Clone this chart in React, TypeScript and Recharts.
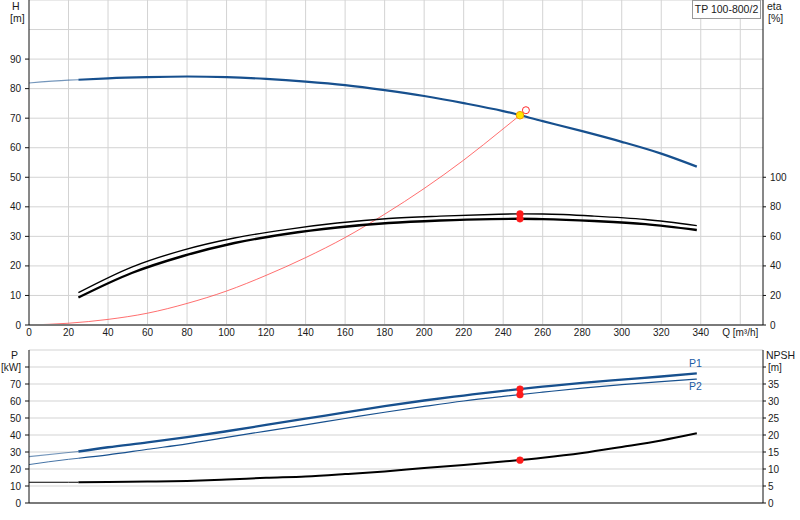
import React from 'react';
import { ComposedChart, Line, Scatter, XAxis, YAxis, CartesianGrid } from 'recharts';

// ---- data ----
const qTicks = [0, 20, 40, 60, 80, 100, 120, 140, 160, 180, 200, 220, 240, 260, 280, 300, 320, 340, 360];
const qGridLines = [20, 40, 60, 80, 100, 120, 140, 160, 180, 200, 220, 240, 260, 280, 300, 320, 340, 360];
const hTicks = [0, 10, 20, 30, 40, 50, 60, 70, 80, 90];
const hGridLines = [10, 20, 30, 40, 50, 60, 70, 80, 90, 100, 110];
const etaTicks = [0, 20, 40, 60, 80, 100];
const pTicks = [0, 10, 20, 30, 40, 50, 60, 70, 80];
const pGridLines = [10, 20, 30, 40, 50, 60, 70, 80, 90];
const npshTicks = [0, 5, 10, 15, 20, 25, 30, 35, 40];

// Head curve
const hExtQ = [0, 20, 25];
const hExtV = [81.9, 82.9, 83.0];
const hQ = [25, 40, 60, 80, 100, 120, 140, 160, 180, 200, 220, 240, 260, 280, 300, 320, 338];
const hV = [83.0, 83.5, 83.9, 84.1, 83.9, 83.3, 82.4, 81.2, 79.5, 77.5, 75.1, 72.4, 69.0, 65.6, 62.0, 58.0, 53.6];

// System curve (red)
const sysQ = [0, 20, 40, 60, 80, 100, 120, 140, 160, 180, 200, 220, 240, 248.5];
const sysV = [0, 0.6, 1.9, 4.0, 7.3, 11.5, 16.8, 22.8, 29.6, 37.5, 46.2, 55.8, 66.4, 71.0];

// Efficiency curves
const etaQ = [25, 52, 78, 104, 130, 156, 182, 208, 234, 248, 260, 286, 312, 338];
const etaPump = [21.9, 39.2, 50.7, 58.9, 64.6, 69.0, 72.1, 73.7, 74.8, 75.2, 75.1, 73.7, 71.4, 67.3];
const etaTotal = [18.6, 35.2, 46.7, 55.5, 61.6, 66.0, 69.0, 70.7, 71.7, 71.9, 71.7, 70.4, 68.3, 64.3];

// Power curves
const pExtQ = [0, 20, 25];
const p1Ext = [27.3, 29.7, 30.3];
const p2Ext = [22.6, 25.7, 26.3];
const pQ = [25, 40, 60, 80, 100, 120, 140, 160, 180, 200, 220, 240, 260, 280, 300, 320, 338];
const p1V = [30.3, 32.8, 35.6, 38.7, 42.2, 45.9, 49.6, 53.3, 57.0, 60.3, 63.2, 66.0, 68.4, 70.7, 72.6, 74.4, 76.3];
const p2V = [26.3, 28.3, 31.6, 34.8, 38.6, 42.3, 46.0, 49.7, 53.4, 56.8, 60.0, 62.7, 65.2, 67.6, 69.6, 71.4, 72.9];

// NPSH curve
const nExtQ = [0, 20, 25];
const nExtV = [6.1, 6.1, 6.1];
const nQ = [25, 40, 60, 80, 100, 120, 140, 160, 180, 200, 220, 240, 260, 280, 300, 320, 338];
const nV = [6.1, 6.15, 6.3, 6.5, 6.9, 7.4, 7.8, 8.5, 9.3, 10.3, 11.2, 12.2, 13.3, 14.7, 16.5, 18.4, 20.5];

// Duty point
const dutyQ = 248.5;
const dutyH = 71.0;
const reqQ = 251.5;
const reqH = 72.7;
const dutyEtaPump = 75.2;
const dutyEtaTotal = 71.9;
const dutyP1 = 67.0;
const dutyP2 = 63.7;
const dutyNpsh = 12.6;

const title = 'TP 100-800/2';

// ---- helpers ----
const pts = (qs: number[], vs: number[]) => qs.map((q, i) => ({ q, v: vs[i] }));
const FONT = '"Liberation Sans", Arial, sans-serif';
const TXT = '#1a1a1a';
const BLUE = '#17508e';
const GRID = '#d3d3d3';
const X_DOMAIN: [number, number] = [0, 371.5];

const tickStyle = { fontSize: 10, fill: TXT, fontFamily: FONT };

const redDot = (r: number) => (props: any) => (
  <circle cx={props.cx} cy={props.cy} r={r} fill="#ff1a1a" stroke="#ff1a1a" strokeWidth={0.5} />
);
const yellowDot = (props: any) => (
  <circle cx={props.cx} cy={props.cy} r={3.8} fill="#ffe600" stroke="#f29a00" strokeWidth={1} />
);
const openDot = (props: any) => (
  <circle cx={props.cx} cy={props.cy} r={3.5} fill="#ffffff" stroke="#ff2a2a" strokeWidth={1} />
);

const overlay = (text: string, left: number, top: number, extra: React.CSSProperties = {}) => (
  <div
    style={{
      position: 'absolute',
      left,
      top,
      fontFamily: FONT,
      fontSize: 10.5,
      color: TXT,
      lineHeight: '12px',
      whiteSpace: 'nowrap',
      ...extra,
    }}
  >
    {text}
  </div>
);

export default function App() {
  return (
    <div style={{ position: 'absolute', left: 0, top: 0, width: 800, height: 520, background: '#fff', overflow: 'hidden' }}>
      {/* Top chart: head + efficiency */}
      <div style={{ position: 'absolute', left: 0, top: 0 }}>
        <ComposedChart width={800} height={340} margin={{ top: 0, right: 0, bottom: 0, left: 0 }}>
          <CartesianGrid
            stroke={GRID}
            strokeWidth={1}
            horizontalValues={hGridLines}
            verticalValues={qGridLines}
          />
          <XAxis
            type="number"
            dataKey="q"
            domain={X_DOMAIN}
            allowDataOverflow
            ticks={qTicks}
            tickFormatter={(v: number) => (v === 360 ? 'Q [m³/h]' : String(v))}
            height={15}
            tickLine={false}
            tickSize={0}
            tickMargin={4}
            axisLine={{ stroke: '#7a7a7a', strokeWidth: 2 }}
            tick={tickStyle}
            interval={0}
          />
          <YAxis
            type="number"
            domain={[0, 110]}
            ticks={hTicks}
            width={29}
            tickSize={4}
            tickMargin={4}
            tickLine={{ stroke: '#111' }}
            axisLine={{ stroke: '#111', strokeWidth: 1 }}
            tick={tickStyle}
            interval={0}
            allowDataOverflow
          />
          <YAxis
            yAxisId="eta"
            orientation="right"
            type="number"
            domain={[0, 220]}
            ticks={etaTicks}
            width={37}
            tickSize={3}
            tickMargin={4}
            tickLine={{ stroke: '#111' }}
            axisLine={{ stroke: '#111', strokeWidth: 1 }}
            tick={tickStyle}
            interval={0}
            allowDataOverflow
          />
          <Line data={pts(sysQ, sysV)} dataKey="v" type="monotone" stroke="#ff4a4a" strokeWidth={0.8} dot={false} activeDot={false} isAnimationActive={false} />
          <Line data={pts(hExtQ, hExtV)} dataKey="v" type="monotone" stroke={BLUE} strokeOpacity={0.6} strokeWidth={1.2} dot={false} activeDot={false} isAnimationActive={false} />
          <Line data={pts(hQ, hV)} dataKey="v" type="monotone" stroke={BLUE} strokeWidth={2.2} dot={false} activeDot={false} isAnimationActive={false} />
          <Line yAxisId="eta" data={pts(etaQ, etaPump)} dataKey="v" type="monotone" stroke="#000" strokeWidth={1.4} dot={false} activeDot={false} isAnimationActive={false} />
          <Line yAxisId="eta" data={pts(etaQ, etaTotal)} dataKey="v" type="monotone" stroke="#000" strokeWidth={2.4} dot={false} activeDot={false} isAnimationActive={false} />
          <Scatter yAxisId="eta" data={[{ q: dutyQ, v: dutyEtaPump }, { q: dutyQ, v: dutyEtaTotal }]} dataKey="v" shape={redDot(3.4)} isAnimationActive={false} />
          <Scatter data={[{ q: reqQ, v: reqH }]} dataKey="v" shape={openDot} isAnimationActive={false} />
          <Scatter data={[{ q: dutyQ, v: dutyH }]} dataKey="v" shape={yellowDot} isAnimationActive={false} />
        </ComposedChart>
      </div>

      {/* Bottom chart: power + NPSH */}
      <div style={{ position: 'absolute', left: 0, top: 340 }}>
        <ComposedChart width={800} height={180} margin={{ top: 10, right: 0, bottom: 0, left: 0 }}>
          <CartesianGrid
            stroke={GRID}
            strokeWidth={1}
            horizontalValues={pGridLines}
            verticalValues={qGridLines}
          />
          <XAxis
            type="number"
            dataKey="q"
            domain={X_DOMAIN}
            allowDataOverflow
            ticks={qTicks}
            height={17}
            tick={false}
            tickLine={false}
            axisLine={{ stroke: '#7a7a7a', strokeWidth: 2 }}
          />
          <YAxis
            type="number"
            domain={[0, 90]}
            ticks={pTicks}
            tickFormatter={(v: number) => (v === 80 ? '[kW]' : String(v))}
            width={29}
            tickSize={4}
            tickMargin={4}
            tickLine={{ stroke: '#111' }}
            axisLine={{ stroke: '#111', strokeWidth: 1 }}
            tick={tickStyle}
            interval={0}
            allowDataOverflow
          />
          <YAxis
            yAxisId="n"
            orientation="right"
            type="number"
            domain={[0, 45]}
            ticks={npshTicks}
            tickFormatter={(v: number) => (v === 40 ? '[m]' : String(v))}
            width={37}
            tickSize={3}
            tickMargin={2}
            tickLine={{ stroke: '#111' }}
            axisLine={{ stroke: '#111', strokeWidth: 1 }}
            tick={tickStyle}
            interval={0}
            allowDataOverflow
          />
          <Line data={pts(pExtQ, p1Ext)} dataKey="v" type="monotone" stroke={BLUE} strokeOpacity={0.6} strokeWidth={1.2} dot={false} activeDot={false} isAnimationActive={false} />
          <Line data={pts(pExtQ, p2Ext)} dataKey="v" type="monotone" stroke={BLUE} strokeOpacity={0.8} strokeWidth={1} dot={false} activeDot={false} isAnimationActive={false} />
          <Line data={pts(pQ, p1V)} dataKey="v" type="monotone" stroke={BLUE} strokeWidth={2.3} dot={false} activeDot={false} isAnimationActive={false} />
          <Line data={pts(pQ, p2V)} dataKey="v" type="monotone" stroke={BLUE} strokeWidth={1.2} dot={false} activeDot={false} isAnimationActive={false} />
          <Line yAxisId="n" data={pts(nExtQ, nExtV)} dataKey="v" type="monotone" stroke="#000" strokeWidth={1} dot={false} activeDot={false} isAnimationActive={false} />
          <Line yAxisId="n" data={pts(nQ, nV)} dataKey="v" type="monotone" stroke="#000" strokeWidth={2} dot={false} activeDot={false} isAnimationActive={false} />
          <Scatter data={[{ q: dutyQ, v: dutyP1 }, { q: dutyQ, v: dutyP2 }]} dataKey="v" shape={redDot(3.4)} isAnimationActive={false} />
          <Scatter yAxisId="n" data={[{ q: dutyQ, v: dutyNpsh }]} dataKey="v" shape={redDot(3.4)} isAnimationActive={false} />
        </ComposedChart>
      </div>

      {/* axis titles */}
      {overlay('H', 12, 0)}
      {overlay('[m]', 10, 12)}
      {overlay('eta', 767, 0)}
      {overlay('[%]', 768, 12)}
      {overlay('P', 11, 349)}
      {overlay('NPSH', 766, 349)}
      {overlay('P1', 689, 357, { color: '#1d5da6' })}
      {overlay('P2', 689, 380, { color: '#1d5da6' })}

      {/* title box */}
      <div
        style={{
          position: 'absolute',
          left: 692,
          top: 0,
          width: 69,
          height: 19,
          border: '1px solid #9a9a9a',
          background: '#fff',
          fontFamily: FONT,
          fontSize: 10.5,
          color: TXT,
          lineHeight: '17px',
          textAlign: 'center',
          boxSizing: 'border-box',
          whiteSpace: 'nowrap',
        }}
      >
        {title}
      </div>
    </div>
  );
}
